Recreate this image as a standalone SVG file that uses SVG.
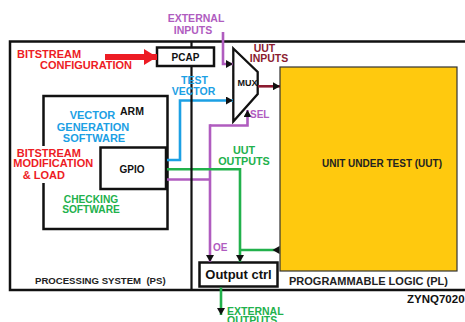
<svg xmlns="http://www.w3.org/2000/svg" width="465" height="322" viewBox="0 0 465 322">
<style>
text{font-family:"Liberation Sans",Arial,sans-serif;font-weight:bold}
.box{fill:#fff;stroke:#111;stroke-width:2.5}
.blk{fill:#111}
.red{fill:#ed1c24}
.pur{fill:#b05cbf}
.blu{fill:#1ca0e4}
.grn{fill:#22b14c}
.mar{fill:#8b1a2f}
.dk{fill:#222}
.c{stroke-width:2.6;fill:none}
.mid{text-anchor:middle}
</style>
<defs>
<marker id="ah" markerUnits="userSpaceOnUse" markerWidth="8" markerHeight="8" refX="7" refY="4" orient="auto"><path d="M0,0 L7,4 L0,8 z" fill="#111"/></marker>
<marker id="at" markerUnits="userSpaceOnUse" markerWidth="8" markerHeight="8" refX="0" refY="4" orient="auto"><path d="M0,0 L7,4 L0,8 z" fill="#111"/></marker>
<marker id="ar" markerUnits="userSpaceOnUse" markerWidth="14" markerHeight="18" refX="13" refY="9" orient="auto"><path d="M0,1 L13,9 L0,17 z" fill="#ed1c24"/></marker>
</defs>

<g id="processing-system">
<rect x="10" y="41.5" width="470" height="248.5" fill="none" stroke="#111" stroke-width="2.5"/>
<text x="35" y="284.3" font-size="9.6" class="dk" xml:space="preserve">PROCESSING SYSTEM  (PS)</text>
</g>

<g id="programmable-logic">
<text x="289" y="285" font-size="11" class="dk">PROGRAMMABLE LOGIC (PL)</text>
</g>

<g id="zynq-label">
<text x="407" y="302.7" font-size="11.5" class="blk">ZYNQ7020</text>
</g>

<g id="uut">
<rect x="280" y="67" width="177" height="204" fill="#ffc90e" stroke="#333" stroke-width="1.2"/>
<text x="382" y="166.7" font-size="10" class="dk mid">UNIT UNDER TEST (UUT)</text>
</g>

<g id="arm">
<rect x="43.5" y="96" width="124" height="133" class="box"/>
<text x="120" y="115" font-size="10.5" class="blk">ARM</text>
<text x="92.5" y="119" font-size="11" class="blu mid">VECTOR</text>
<text x="93" y="130.5" font-size="11" class="blu mid">GENERATION</text>
<text x="94" y="141.5" font-size="11" class="blu mid">SOFTWARE</text>
<rect x="12" y="146" width="87" height="37" fill="#fff"/>
<text x="16.7" y="156.7" font-size="11" class="red">BITSTREAM</text>
<text x="13.3" y="167.3" font-size="11" class="red">MODIFICATION</text>
<text x="22.7" y="179" font-size="11" class="red">&amp; LOAD</text>
<text x="91" y="202.5" font-size="10.2" class="grn mid">CHECKING</text>
<text x="91" y="212.8" font-size="10.2" class="grn mid">SOFTWARE</text>
</g>

<g id="gpio">
<rect x="100.5" y="147.5" width="65.5" height="41.5" class="box"/>
<text x="132" y="173.3" font-size="10" class="blk mid">GPIO</text>
</g>

<g id="pcap">
<rect x="157" y="47.5" width="57" height="18.5" class="box"/>
<text x="185.5" y="61" font-size="10" class="blk mid">PCAP</text>
</g>

<g id="mux">
<path d="M233.3,48.5 L257.7,72 L257.7,94 L233.3,121.5 Z" fill="#fff" stroke="#111" stroke-width="2.3"/>
<text x="247.5" y="86" font-size="9" class="blk mid">MUX</text>
</g>

<g id="output-ctrl">
<rect x="199.5" y="262.5" width="78" height="24" class="box"/>
<text x="238.5" y="279.3" font-size="13" class="blk mid">Output ctrl</text>
</g>

<g id="connectors">
<path d="M105,57 H157" stroke="#ed1c24" stroke-width="6" fill="none" marker-end="url(#ar)"/>
<path d="M223,32 V64 H233" stroke="#b05cbf" class="c" marker-end="url(#ah)"/>
<path d="M167,160 H180 V100.5 H233" stroke="#1ca0e4" class="c" marker-end="url(#ah)"/>
<path d="M258,86.3 H280" stroke="#8b1a2f" class="c" marker-end="url(#ah)"/>
<path d="M167,179.5 H210" stroke="#b05cbf" class="c"/>
<path d="M210,125.5 H247.5 V110" stroke="#b05cbf" class="c" marker-end="url(#ah)"/>
<path d="M210,124.2 V262" stroke="#b05cbf" class="c" marker-end="url(#ah)"/>
<path d="M167,169.3 H240 V262" stroke="#22b14c" class="c" marker-end="url(#ah)"/>
<path d="M279.5,250 H240" stroke="#22b14c" class="c" marker-start="url(#at)"/>
<path d="M221,287.5 V315" stroke="#22b14c" class="c" marker-end="url(#ah)"/>
</g>

<g id="ps-pl-divider">
<path d="M191.5,41.5 V47.5 M191.5,66 V290" stroke="#111" stroke-width="2.2" fill="none"/>
</g>

<g id="labels">
<text x="196" y="22" font-size="10.5" class="pur mid">EXTERNAL</text>
<text x="193" y="34" font-size="10.5" class="pur mid">INPUTS</text>
<text x="17" y="58" font-size="11" class="red">BITSTREAM</text>
<text x="40" y="69" font-size="11" class="red">CONFIGURATION</text>
<text x="194.5" y="83.5" font-size="10.5" class="blu mid">TEST</text>
<text x="193.5" y="94.5" font-size="10.5" class="blu mid">VECTOR</text>
<text x="264.5" y="51.5" font-size="10.5" class="mar mid">UUT</text>
<text x="269" y="62.3" font-size="10.5" class="mar mid">INPUTS</text>
<text x="250" y="118" font-size="10" class="pur">SEL</text>
<text x="244" y="154" font-size="10.8" class="grn mid">UUT</text>
<text x="244" y="164.8" font-size="10.8" class="grn mid">OUTPUTS</text>
<text x="213" y="250.7" font-size="10" class="pur">OE</text>
<text x="227" y="314.5" font-size="10.5" class="grn">EXTERNAL</text>
<text x="227" y="323.5" font-size="10.5" class="grn">OUTPUTS</text>
</g>
</svg>
